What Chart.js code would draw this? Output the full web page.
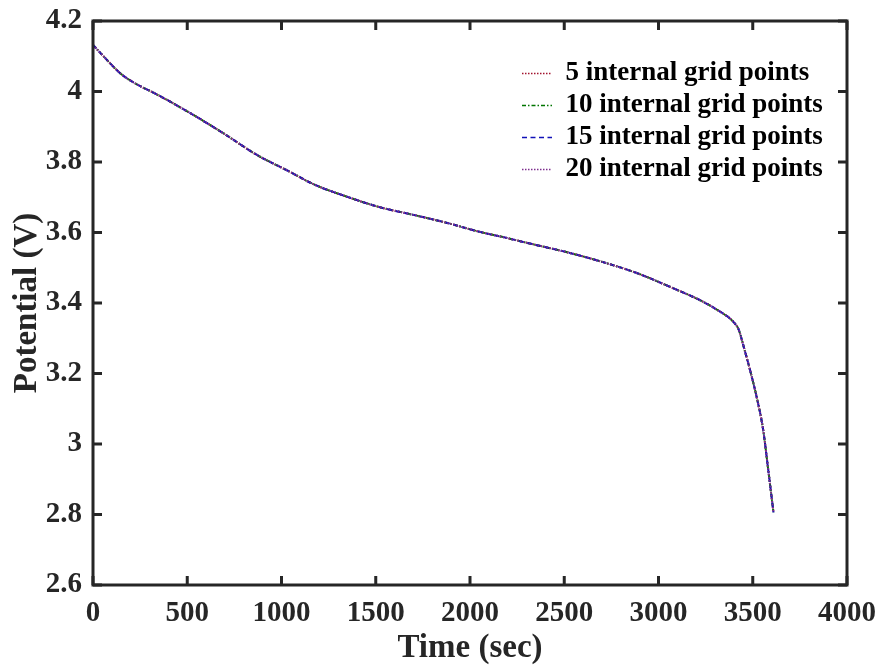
<!DOCTYPE html>
<html>
<head>
<meta charset="utf-8">
<script src="https://cdn.jsdelivr.net/npm/chart.js@4/dist/chart.umd.min.js"></script>
<style>
  html, body { margin: 0; padding: 0; background: #ffffff; }
  #wrap { width: 881px; height: 668px; position: relative; }
</style>
</head>
<body>
<div id="wrap"><canvas id="chart"></canvas></div>
<script>
// Discharge time (s) and cell potential (V) for each grid resolution
const timeSec = [0, 40, 80, 120, 160, 240, 320, 515, 690, 870, 1045, 1170, 1350, 1520, 1700, 1880, 2050, 2175, 2355, 2530, 2705, 2885, 3060, 3235, 3325, 3370, 3400, 3425, 3455, 3485, 3520, 3555, 3580, 3610];
const voltage5  = [4.132, 4.109, 4.086, 4.064, 4.045, 4.018, 3.997, 3.939, 3.882, 3.820, 3.772, 3.737, 3.701, 3.672, 3.650, 3.627, 3.602, 3.587, 3.564, 3.542, 3.516, 3.485, 3.446, 3.404, 3.376, 3.360, 3.345, 3.325, 3.270, 3.211, 3.135, 3.041, 2.936, 2.806];
const voltage10 = [4.132, 4.109, 4.086, 4.064, 4.045, 4.018, 3.997, 3.939, 3.882, 3.820, 3.772, 3.737, 3.701, 3.672, 3.650, 3.627, 3.602, 3.587, 3.564, 3.542, 3.516, 3.485, 3.446, 3.404, 3.376, 3.360, 3.345, 3.325, 3.270, 3.211, 3.135, 3.041, 2.936, 2.806];
const voltage15 = [4.132, 4.109, 4.086, 4.064, 4.045, 4.018, 3.997, 3.939, 3.882, 3.820, 3.772, 3.737, 3.701, 3.672, 3.650, 3.627, 3.602, 3.587, 3.564, 3.542, 3.516, 3.485, 3.446, 3.404, 3.376, 3.360, 3.345, 3.325, 3.270, 3.211, 3.135, 3.041, 2.936, 2.806];
const voltage20 = [4.132, 4.109, 4.086, 4.064, 4.045, 4.018, 3.997, 3.939, 3.882, 3.820, 3.772, 3.737, 3.701, 3.672, 3.650, 3.627, 3.602, 3.587, 3.564, 3.542, 3.516, 3.485, 3.446, 3.404, 3.376, 3.360, 3.345, 3.325, 3.270, 3.211, 3.135, 3.041, 2.936, 2.806];
const seriesNames = ['5 internal grid points', '10 internal grid points', '15 internal grid points', '20 internal grid points'];
const xTicks = [0, 500, 1000, 1500, 2000, 2500, 3000, 3500, 4000];
const yTicks = [2.6, 2.8, 3.0, 3.2, 3.4, 3.6, 3.8, 4.0, 4.2];

const AXIS_COLOR = '#262626';
const SERIF = '"Liberation Serif", "Times New Roman", serif';

function toPoints(values) {
  return values.map((v, i) => ({ x: timeSec[i], y: v }));
}

// Boxed axes with inward tick marks on all four sides
const frame = {
  id: 'frame',
  afterDatasetsDraw(chart) {
    const { ctx, chartArea: a, scales: { x, y } } = chart;
    const len = 9;
    ctx.save();
    ctx.setLineDash([]);
    ctx.strokeStyle = AXIS_COLOR;
    ctx.lineWidth = 3;
    ctx.beginPath();
    x.ticks.forEach(t => {
      const px = x.getPixelForValue(t.value);
      ctx.moveTo(px, a.bottom); ctx.lineTo(px, a.bottom - len);
      ctx.moveTo(px, a.top); ctx.lineTo(px, a.top + len);
    });
    y.ticks.forEach(t => {
      const py = y.getPixelForValue(t.value);
      ctx.moveTo(a.left, py); ctx.lineTo(a.left + len, py);
      ctx.moveTo(a.right, py); ctx.lineTo(a.right - len, py);
    });
    ctx.stroke();
    ctx.strokeRect(a.left, a.top, a.right - a.left, a.bottom - a.top);
    ctx.restore();
  }
};

// Place the legend in the upper right of the plot area
const legendPlacer = {
  id: 'legendPlacer',
  afterLayout(chart) {
    const lg = chart.legend;
    if (!lg) return;
    const h = 170;
    lg.left = 517; lg.top = 55;
    lg.right = lg.left + lg.width;
    lg.bottom = lg.top + h;
    lg.height = h;
  }
};

// Legend samples carry each series' own dash pattern
function lineLabels(chart) {
  const items = Chart.defaults.plugins.legend.labels.generateLabels(chart);
  items.forEach(item => {
    const ds = chart.data.datasets[item.datasetIndex];
    item.lineDash = ds.borderDash;
    item.strokeStyle = ds.borderColor;
    item.lineWidth = 1.6;
    item.lineCap = 'butt';
  });
  return items.sort((a, b) => a.datasetIndex - b.datasetIndex);
}

new Chart(document.getElementById('chart'), {
  type: 'line',
  data: {
    datasets: [
      { label: seriesNames[0], data: toPoints(voltage5),  borderColor: '#A2142F', borderWidth: 2, borderDash: [1.5, 1.5], order: 4 },
      { label: seriesNames[1], data: toPoints(voltage10), borderColor: '#007500', borderWidth: 2, borderDash: [4, 2, 1.5, 2], order: 3 },
      { label: seriesNames[2], data: toPoints(voltage15), borderColor: '#1111B8', borderWidth: 2, borderDash: [5, 3.5], order: 2 },
      { label: seriesNames[3], data: toPoints(voltage20), borderColor: '#7E2F8E', borderWidth: 2, borderDash: [1.5, 1.5], order: 1 }
    ]
  },
  options: {
    responsive: true,
    maintainAspectRatio: false,
    animation: false,
    layout: { padding: { top: 21, right: 34, left: 0, bottom: 0 } },
    elements: {
      point: { radius: 0 },
      line: { cubicInterpolationMode: 'monotone', fill: false, borderCapStyle: 'butt' }
    },
    scales: {
      x: {
        type: 'linear',
        min: 0, max: 4000,
        afterBuildTicks: s => { s.ticks = xTicks.map(v => ({ value: v })); },
        afterFit: s => { s.height = 83; },
        grid: { display: false },
        border: { display: false },
        ticks: { padding: 3, color: AXIS_COLOR, font: { family: SERIF, size: 29, weight: 'bold' }, maxRotation: 0, autoSkip: false, callback: v => String(v) },
        title: { display: true, text: 'Time (sec)', color: AXIS_COLOR, font: { family: SERIF, size: 33, weight: 'bold' }, padding: { top: 0, bottom: 0 } }
      },
      y: {
        type: 'linear',
        min: 2.6, max: 4.2,
        afterBuildTicks: s => { s.ticks = yTicks.map(v => ({ value: v })); },
        afterFit: s => { s.width = 93; },
        grid: { display: false },
        border: { display: false },
        ticks: { padding: 3, color: AXIS_COLOR, font: { family: SERIF, size: 29, weight: 'bold' }, autoSkip: false, callback: v => String(Number(v.toFixed(1))) },
        title: { display: true, text: 'Potential (V)', color: AXIS_COLOR, font: { family: SERIF, size: 33, weight: 'bold' }, padding: { top: 8, bottom: 0 } }
      }
    },
    plugins: {
      tooltip: { enabled: false },
      legend: {
        position: 'chartArea',
        align: 'start',
        labels: {
          usePointStyle: true,
          pointStyle: 'line',
          pointStyleWidth: 30,
          padding: 5,
          color: '#000000',
          font: { family: SERIF, size: 27, weight: 'bold' },
          generateLabels: lineLabels
        }
      }
    }
  },
  plugins: [frame, legendPlacer]
});
</script>
</body>
</html>
